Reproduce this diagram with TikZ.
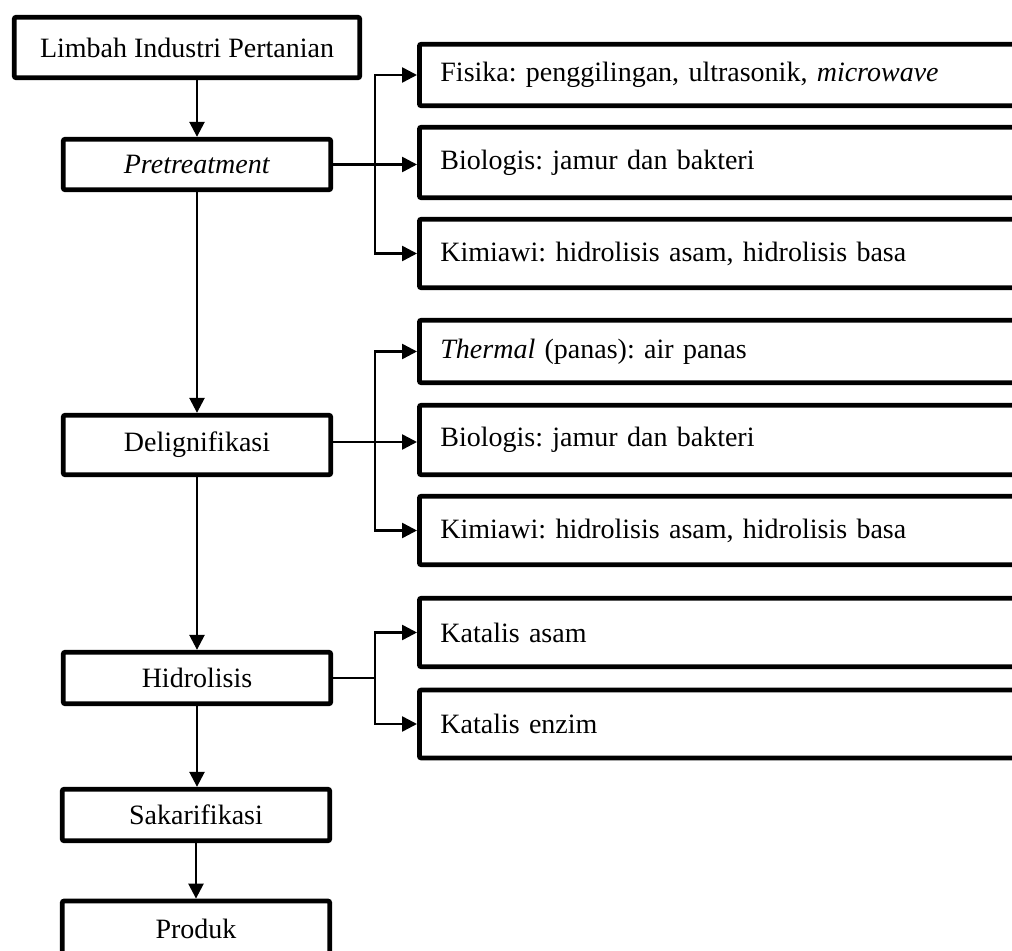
\documentclass[tikz,border=0pt]{standalone}
\usepackage{fontspec}
\setmainfont{Liberation Serif}
\frenchspacing
\usepackage{tikz}
\usetikzlibrary{arrows.meta, positioning}
\tikzset{
    tahap/.style={rectangle, rounded corners=1pt, draw=black, line width=2.4pt, fill=white, text centered, minimum width=133.75pt, minimum height=25.75pt, font=\fontsize{14}{16}\selectfont},
    opsi/.style={rectangle, rounded corners=1pt, draw=black, line width=2.4pt, fill=white, anchor=west, text width=300pt, align=left, inner xsep=10.5pt, minimum height=34.25pt, font=\fontsize{14}{16}\selectfont},
    panah/.style={line width=1.25pt, -{Triangle[length=7.5pt,width=7.5pt]}},
    garis/.style={line width=1.25pt},
}
\begin{document}
\begin{tikzpicture}[x=0.5pt, y=-0.5pt, on grid]
  \useasboundingbox (0,0) rectangle (1012,951);

  \node[tahap, minimum width=172.75pt, minimum height=30.25pt] (limbah) at (187,47.5) {Limbah Industri Pertanian};
  \node[tahap, minimum height=25.25pt] (pre)    [below=58.5pt of limbah, xshift=5pt] {\textit{Pretreatment}};
  \node[tahap, minimum height=29.75pt] (delig)  [below=140.25pt of pre] {Delignifikasi};
  \node[tahap]                         (hidro)  [below=116.5pt of delig] {Hidrolisis};
  \node[tahap]                         (sakar)  [below=68.5pt of hidro, xshift=-0.5pt] {Sakarifikasi};
  \node[tahap, minimum height=28pt]    (produk) [below=57pt of sakar] {Produk};

  \node[opsi, minimum height=30.75pt] (fis)   at (417,75)    {Fisika: penggilingan, ultrasonik, \textit{microwave}};
  \node[opsi, minimum height=35.25pt] (bio1)  at (417,162.5) {Biologis: jamur dan bakteri};
  \node[opsi]                         (kim1)  at (417,253.5) {Kimiawi: hidrolisis asam, hidrolisis basa};
  \node[opsi, minimum height=31.25pt] (term)  at (417,351.5) {\textit{Thermal} (panas): air panas};
  \node[opsi, minimum height=34.75pt] (bio2)  at (417,440)   {Biologis: jamur dan bakteri};
  \node[opsi]                         (kim2)  at (417,530.5) {Kimiawi: hidrolisis asam, hidrolisis basa};
  \node[opsi]                         (katA)  at (417,632.5) {Katalis asam};
  \node[opsi, minimum height=34pt]    (katE)  at (417,724)   {Katalis enzim};

  \coordinate (cab1) at (375,164.5);
  \coordinate (cab2) at (375,442);
  \coordinate (cab3) at (375,678);

  \draw[panah] (limbah.south -| pre.north) -- (pre.north);
  \draw[panah] (pre.south) -- (delig.north);
  \draw[panah] (delig.south) -- (hidro.north);
  \draw[panah] (hidro.south) -- (hidro.south |- sakar.north);
  \draw[panah] (sakar.south) -- (produk.north);

  \draw[panah] (pre.east) -- (pre.east -| bio1.west);
  \draw[panah] (cab1) |- (fis.west);
  \draw[panah] (cab1) |- (kim1.west);

  \draw[panah] (delig.east |- cab2) -- (cab2 -| bio2.west);
  \draw[panah] (cab2) |- (term.west);
  \draw[panah] (cab2) |- (kim2.west);

  \draw[garis] (hidro.east) -- (cab3);
  \draw[panah] (cab3) |- (katA.west);
  \draw[panah] (cab3) |- (katE.west);
\end{tikzpicture}
\end{document}
